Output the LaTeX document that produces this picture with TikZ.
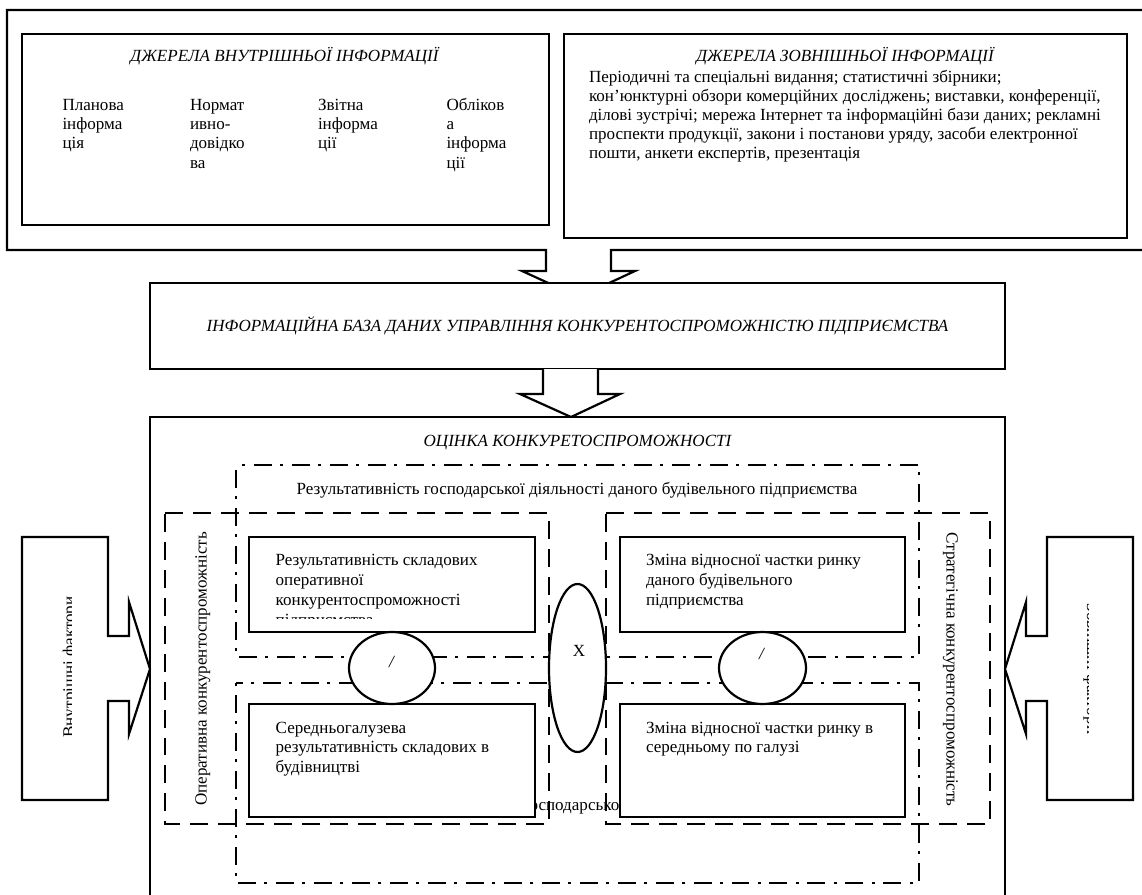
\documentclass[tikz,border=0pt]{standalone}
\usepackage{fontspec}
\setmainfont{Liberation Serif}
\usetikzlibrary{shapes.geometric,fit}
\newcommand{\uu}{0.02cm}
\newcommand{\fsz}{\fontsize{9.7pt}{11pt}\selectfont}
\tikzset{
  x=0.02cm,y=-0.02cm,
  ln/.style={draw=black,line width=1.25pt,fill=white,line join=miter},
  boxst/.style={ln,rectangle,inner sep=0pt,outer sep=0pt},
  ellst/.style={ln,ellipse,inner sep=0pt,outer sep=0pt},
  ddot/.style={draw=black,line width=1.25pt,dash pattern=on 10.24pt off 4.84pt on 1.7pt off 4.84pt},
  dsh/.style={draw=black,line width=1.25pt,dash pattern=on 10.24pt off 5.69pt},
  txt/.style={anchor=base west,inner sep=0pt,outer sep=0pt,font=\fsz},
  ctx/.style={anchor=base,inner sep=0pt,outer sep=0pt,font=\fsz},
  itx/.style={ctx,font=\fsz\itshape},
}
\begin{document}
\begin{tikzpicture}
\useasboundingbox (0,0) rectangle (1142,895);
% outer source frame with block arrow
\path[ln] (1160,10) -- (7,10) -- (7,250) -- (546,250) -- (546,271) -- (522,271) -- (579,297) -- (635,271) -- (611,271) -- (611,250) -- (1160,250);
\node[boxst,fit={(22,34)(549,225)}] (intbox) {};
\node[boxst,fit={(564,34)(1127,238)}] (extbox) {};
\node[itx] (inthead) at (284.5,62) {ДЖЕРЕЛА ВНУТРІШНЬОЇ ІНФОРМАЦІЇ};
\node[txt] (a1) at (62.5,111) {Планова};
\node[txt] (a2) at (62.5,130) {інформа};
\node[txt] (a3) at (62.5,149) {ція};
\node[txt] (b1) at (190,111) {Нормат};
\node[txt] (b2) at (190,130) {ивно-};
\node[txt] (b3) at (190,149) {довідко};
\node[txt] (b4) at (190,169) {ва};
\node[txt] (c1) at (318,111) {Звітна};
\node[txt] (c2) at (318,130) {інформа};
\node[txt] (c3) at (318,149) {ції};
\node[txt] (d1) at (446.5,111) {Обліков};
\node[txt] (d2) at (446.5,130) {а};
\node[txt] (d3) at (446.5,149) {інформа};
\node[txt] (d4) at (446.5,169) {ції};
\node[itx] (exthead) at (845,62) {ДЖЕРЕЛА ЗОВНІШНЬОЇ ІНФОРМАЦІЇ};
\node[txt] (e1) at (589,83) {Періодичні та спеціальні видання; статистичні збірники;};
\node[txt] (e2) at (589,102) {кон’юнктурні обзори комерційних досліджень; виставки, конференції,};
\node[txt] (e3) at (589,121) {ділові зустрічі; мережа Інтернет та інформаційні бази даних; рекламні};
\node[txt] (e4) at (589,140) {проспекти продукції, закони і постанови уряду, засоби електронної};
\node[txt] (e5) at (589,159) {пошти, анкети експертів, презентація};
% database box
\node[boxst,fit={(150,283)(1005,369)}] (db) {};
\node[itx] (dbtext) at (577.5,331) {ІНФОРМАЦІЙНА БАЗА ДАНИХ УПРАВЛІННЯ КОНКУРЕНТОСПРОМОЖНІСТЮ ПІДПРИЄМСТВА};
% evaluation frame
\path[ln] (150,905) -- (150,417) -- (1005,417) -- (1005,905);
\path[ln] (db.south) ++(-34.5,0) -- ++(0,25) -- ++(-23,0) -- ++(51,23) -- ++(49,-23) -- ++(-22,0) -- ++(0,-25);
\node[itx] (evalhead) at (577.5,446) {ОЦІНКА КОНКУРЕТОСПРОМОЖНОСТІ};
\node[ctx] (restext) at (577,494) {Результативність господарської діяльності даного будівельного підприємства};
\node[txt] (hidden) at (523,810) {господарської};
% dash-dot frames
\draw[ddot,dash phase=11.4pt] (236,465) -- (919,465) -- (919,657) -- (236,657) -- cycle;
\draw[ddot,dash phase=6.3pt] (236,683) -- (919,683) -- (919,883) -- (236,883) -- cycle;
% dashed frames
\draw[dsh] (165,513) -- (549,513) -- (549,824) -- (165,824) -- cycle;
\draw[dsh] (606,513) -- (990,513) -- (990,824) -- (606,824) -- cycle;
\node[ctx,rotate=90,anchor=base] (optext) at (206.7,669) {Оперативна конкурентоспроможність};
\node[ctx,rotate=-90,anchor=base] (sttext) at (946.5,669.5) {Стратегічна конкурентоспроможність};
% inner boxes
\node[boxst,fit={(249,537)(535,632)}] (tl) {};
\node[boxst,fit={(249,704)(535,817)}] (bl) {};
\node[boxst,fit={(620,537)(905,632)}] (tr) {};
\node[boxst,fit={(620,704)(905,817)}] (br) {};
\begin{scope}
\clip (240,530) rectangle (530,618);
\node[txt] (f1) at (275.7,565) {Результативність складових};
\node[txt] (f2) at (275.7,585) {оперативної};
\node[txt] (f3) at (275.7,605) {конкурентоспроможності};
\node[txt] (f4) at (275.7,625) {підприємства};
\end{scope}
\node[txt] (g1) at (275.7,733) {Середньогалузева};
\node[txt] (g2) at (275.7,752) {результативність складових в};
\node[txt] (g3) at (275.7,772) {будівництві};
\node[txt] (h1) at (646,565) {Зміна відносної частки ринку};
\node[txt] (h2) at (646,585) {даного будівельного};
\node[txt] (h3) at (646,605) {підприємства};
\node[txt] (i1) at (646,733) {Зміна відносної частки ринку в};
\node[txt] (i2) at (646,752) {середньому по галузі};
% ellipses
\node[ellst,minimum width=86*\uu,minimum height=72*\uu] (divl) at (392,668) {};
\node[ellst,minimum width=87*\uu,minimum height=72*\uu] (divr) at (762.5,668) {};
\node[ellst,minimum width=57*\uu,minimum height=168*\uu] (mult) at (577.5,668) {};
\node[itx] (divltext) at (391.5,667) {/};
\node[itx] (divrtext) at (761.5,659) {/};
\node[ctx] (multtext) at (579,656) {X};
% side callouts
\path[ln] (22,537) -- (108,537) -- (108,636) -- (129,636) -- (129,602) -- (150,669) -- (129,734) -- (129,701) -- (108,701) -- (108,800) -- (22,800) -- cycle;
\path[ln] (1133,537) -- (1047,537) -- (1047,636) -- (1026,636) -- (1026,602) -- (1005,669) -- (1026,734) -- (1026,701) -- (1047,701) -- (1047,800) -- (1133,800) -- cycle;
\begin{scope}
\clip (30,545) rectangle (71,790);
\node[ctx,rotate=90,anchor=base] (lefttext) at (74.5,667) {Внутрішні фактори};
\end{scope}
\begin{scope}
\clip (1060,545) rectangle (1088,790);
\node[ctx,rotate=-90,anchor=base] (righttext) at (1087,669) {Зовнішні фактори};
\end{scope}
\end{tikzpicture}
\end{document}
